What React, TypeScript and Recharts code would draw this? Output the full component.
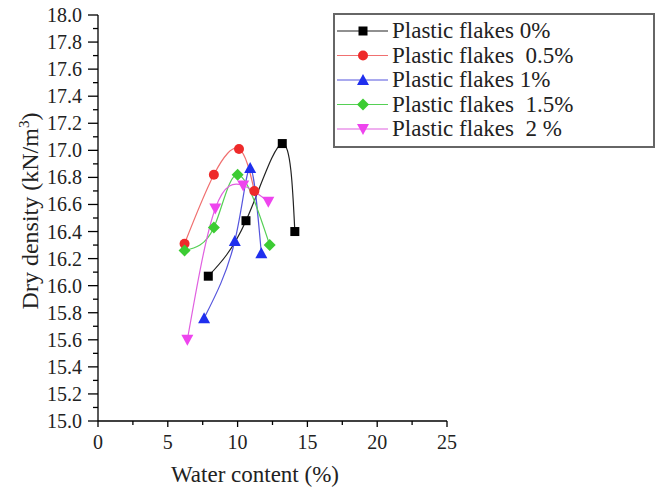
import { LineChart, Line, XAxis, YAxis, Legend, Label } from 'recharts';

const xTicks = [0, 2.5, 5, 7.5, 10, 12.5, 15, 17.5, 20, 22.5, 25];
const yTicks = [
  15.0, 15.1, 15.2, 15.3, 15.4, 15.5, 15.6, 15.7, 15.8, 15.9, 16.0, 16.1, 16.2, 16.3, 16.4, 16.5,
  16.6, 16.7, 16.8, 16.9, 17.0, 17.1, 17.2, 17.3, 17.4, 17.5, 17.6, 17.7, 17.8, 17.9, 18.0,
];

const seriesNames = [
  'Plastic flakes 0%',
  'Plastic flakes  0.5%',
  'Plastic flakes 1%',
  'Plastic flakes  1.5%',
  'Plastic flakes  2 %',
];

const water0 = [7.9, 10.6, 13.2, 14.1];
const density0 = [16.07, 16.48, 17.05, 16.4];
const water05 = [6.2, 8.3, 10.1, 11.2];
const density05 = [16.31, 16.82, 17.01, 16.7];
const water1 = [7.6, 9.8, 10.9, 11.7];
const density1 = [15.76, 16.33, 16.87, 16.24];
const water15 = [6.2, 8.3, 10.0, 12.3];
const density15 = [16.26, 16.43, 16.82, 16.3];
const water2 = [6.4, 8.4, 10.4, 12.2];
const density2 = [15.6, 16.57, 16.74, 16.62];

const pairs = (xs: number[], ys: number[]) => xs.map((x, i) => ({ x, y: ys[i] }));

const series = [
  { name: seriesNames[0], data: pairs(water0, density0), line: '#222', fill: '#000', shape: 'square' },
  { name: seriesNames[1], data: pairs(water05, density05), line: '#f07070', fill: '#ee2a2a', shape: 'circle' },
  { name: seriesNames[2], data: pairs(water1, density1), line: '#5555dd', fill: '#1f2fee', shape: 'up' },
  { name: seriesNames[3], data: pairs(water15, density15), line: '#55d055', fill: '#3ccc33', shape: 'diamond' },
  { name: seriesNames[4], data: pairs(water2, density2), line: '#e060e0', fill: '#ee44ee', shape: 'down' },
];

const serif = { fontFamily: "'Liberation Serif', serif" };

function Marker({ cx, cy, shape, fill }: { cx: number; cy: number; shape: string; fill: string }) {
  if (shape === 'square') return <rect x={cx - 4.5} y={cy - 4.5} width={9} height={9} fill={fill} />;
  if (shape === 'circle') return <circle cx={cx} cy={cy} r={5} fill={fill} />;
  if (shape === 'up')
    return <polygon points={`${cx},${cy - 6} ${cx + 6},${cy + 5} ${cx - 6},${cy + 5}`} fill={fill} />;
  if (shape === 'down')
    return <polygon points={`${cx - 6},${cy - 5} ${cx + 6},${cy - 5} ${cx},${cy + 6}`} fill={fill} />;
  return <polygon points={`${cx},${cy - 6} ${cx + 6},${cy} ${cx},${cy + 6} ${cx - 6},${cy}`} fill={fill} />;
}

function XTick(props: any) {
  const { x, y, payload } = props;
  const major = payload.value % 5 === 0;
  return (
    <g>
      <line x1={x} x2={x} y1={y} y2={y + (major ? 6 : 4)} stroke="#000" strokeWidth={1.3} />
      {major && (
        <text x={x} y={y + 28} textAnchor="middle" style={serif} fontSize={20} fill="#222">
          {payload.value}
        </text>
      )}
    </g>
  );
}

function YTick(props: any) {
  const { x, y, payload } = props;
  const major = Math.round(payload.value * 10) % 2 === 0;
  return (
    <g>
      <line x1={x} x2={x - (major ? 10 : 5)} y1={y} y2={y} stroke="#000" strokeWidth={1.3} />
      {major && (
        <text x={x - 16} y={y + 7} textAnchor="end" style={serif} fontSize={20} fill="#222">
          {payload.value.toFixed(1)}
        </text>
      )}
    </g>
  );
}

function LegendBox() {
  return (
    <svg width={322} height={135} style={{ display: 'block' }}>
      <rect x={1} y={1} width={320} height={133} fill="#fff" stroke="#666" strokeWidth={2} />
      {series.map((s, i) => {
        const cy = 18 + i * 24.5;
        return (
          <g key={s.name}>
            <line x1={4} x2={55} y1={cy} y2={cy} stroke={s.line} strokeWidth={1.2} />
            <Marker cx={30} cy={cy} shape={s.shape} fill={s.fill} />
            <text x={59} y={cy + 7} fontSize={23} fill="#222" style={{ ...serif, whiteSpace: 'pre' }}>
              {s.name}
            </text>
          </g>
        );
      })}
    </svg>
  );
}

export default function App() {
  return (
    <div style={{ position: 'fixed', left: 0, top: 0, width: 662, height: 493, background: '#fff' }}>
      <LineChart width={662} height={493} margin={{ top: 15, right: 215, bottom: 0, left: 0 }} style={serif}>
        <XAxis
          type="number"
          dataKey="x"
          domain={[0, 25]}
          ticks={xTicks}
          interval={0}
          height={72}
          tickSize={0}
          tickMargin={0}
          tick={<XTick />}
          tickLine={false}
          axisLine={{ stroke: '#000', strokeWidth: 1.3 }}
          allowDuplicatedCategory={false}
        >
          <Label
            content={() => (
              <text x={255} y={482} textAnchor="middle" style={serif} fontSize={23} fill="#222">
                Water content (%)
              </text>
            )}
          />
        </XAxis>
        <YAxis
          type="number"
          domain={[15, 18]}
          ticks={yTicks}
          interval={0}
          width={98}
          tickSize={0}
          tickMargin={0}
          tick={<YTick />}
          tickLine={false}
          axisLine={{ stroke: '#000', strokeWidth: 1.3 }}
        >
          <Label
            content={() => (
              <text
                x={0}
                y={0}
                transform="translate(38,211) rotate(-90)"
                textAnchor="middle"
                style={serif}
                fontSize={24}
                fill="#222"
              >
                Dry density (kN/m
                <tspan dy={-9} fontSize={15}>3</tspan>
                <tspan dy={9}>)</tspan>
              </text>
            )}
          />
        </YAxis>
        <Legend
          layout="vertical"
          align="center"
          verticalAlign="middle"
          content={() => <LegendBox />}
          wrapperStyle={{ left: 333, top: 13, width: 322, height: 135 }}
        />
        {series.map((s) => (
          <Line
            key={s.name}
            name={s.name}
            data={s.data}
            dataKey="y"
            type="natural"
            stroke={s.line}
            strokeWidth={1.2}
            isAnimationActive={false}
            dot={(p: any) => <Marker key={p.index} cx={p.cx} cy={p.cy} shape={s.shape} fill={s.fill} />}
            activeDot={false}
          />
        ))}
      </LineChart>
    </div>
  );
}
